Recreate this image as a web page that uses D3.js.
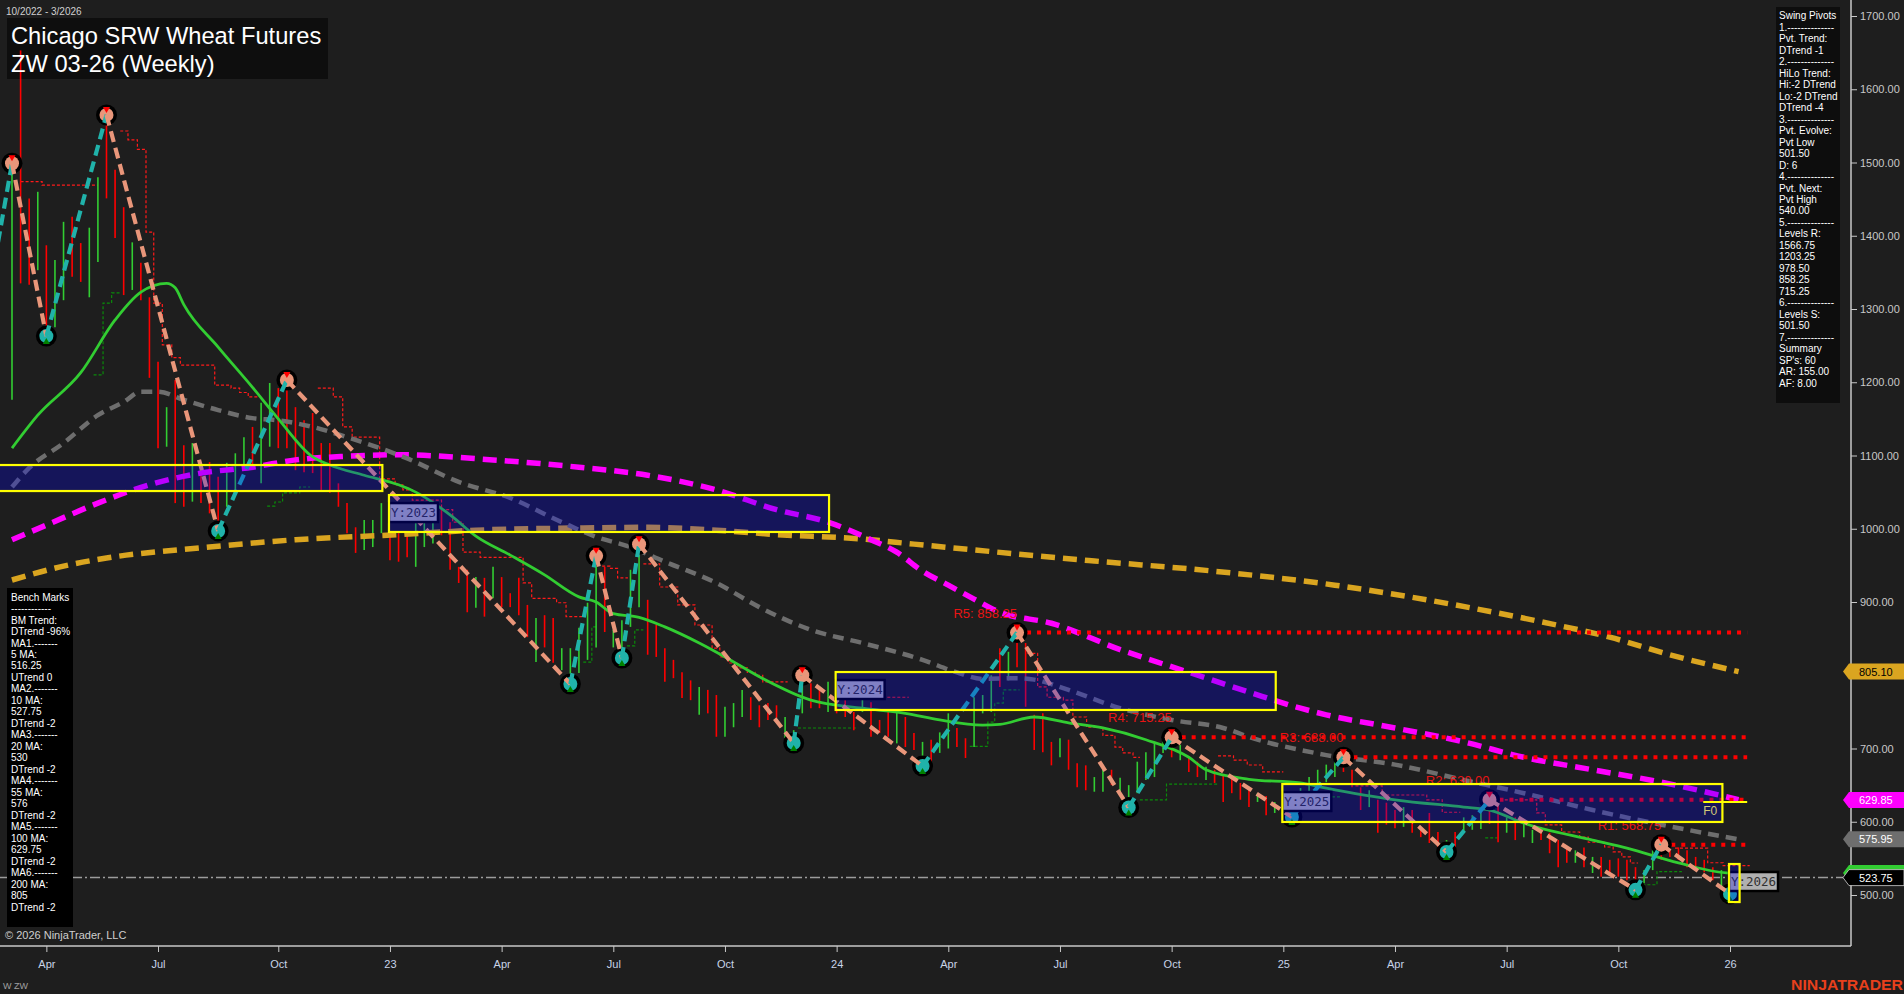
<!DOCTYPE html>
<html><head><meta charset="utf-8">
<script src="https://cdn.jsdelivr.net/npm/d3@7"></script>
<style>
html,body{margin:0;padding:0;background:#1e1e1e;overflow:hidden}
svg{display:block;font-family:"Liberation Sans",Arial,sans-serif}
</style></head><body>
<svg id="c" width="1904" height="994"></svg>
<script>
// ---------------- DATA ----------------
const firstWeek = "2022-03-04"; // first weekly bar (Friday)
const highs = [1499,1653,1451,1460,1387,1367,1419,1426,1390,1411,
1480,1565,1490,1439,1391,1363,1316,1228,1166,1203,
1114,1117,1084,1091,1071,1090,1103,1125,1139,1172,
1199,1192,1203,1166,1148,1158,1117,1117,1062,1035,
1002,1012,1012,1035,994,994,992,1008,1021,1025,
1030,1009,948,944,934,933,948,934,912,933,
896,878,882,878,837,837,865,899,963,948,
862,875,944,979,903,869,837,821,804,793,
784,780,773,757,762,780,770,759,762,759,
743,725,800,789,784,791,776,766,750,770,
763,739,750,750,743,721,709,712,722,748,
728,714,770,773,800,837,832,858,844,746,
748,709,714,712,680,677,661,671,671,660,
650,682,695,709,721,716,705,688,682,675,
671,664,661,653,647,639,635,627,636,630,
646,661,671,678,684,688,671,647,643,630,
626,616,620,616,593,612,586,575,586,606,
609,613,630,626,606,606,602,589,593,585,
575,565,561,565,552,552,548,550,548,538,
534,561,569,565,565,561,552,548,538,534,
525,530];
const lows = [1176,1335,1333,1353,1262,1275,1312,1344,1337,1316,
1364,1451,1397,1319,1326,1312,1206,1110,1112,1035,
1030,1037,1035,1021,997,1030,1049,1084,1080,1062,
1112,1110,1110,1080,1077,1076,1053,1049,1030,994,
967,971,975,994,957,955,961,948,975,980,
991,944,926,886,892,880,905,893,893,882,
852,818,838,817,807,788,803,821,838,859,
838,823.5,866,893,828,825,791,796,769,766,
746,748,716,716,729,743,739,729,739,742,
714,707.5,748,755,755,750,748,743,725,750,
716,721,716,707,702,698,676,680,694,700,
702,687,702,748,750,784,793,811,757,698,
695,677,688,671,647,643,641,641,650,636,
619.5,639,657,661,694,688,684,668,661,657,
653,627,639,630,620,627,609,612,609,606.5,
616,630,647,654,661,668,647,616,620,585,
596,591,593,585,579,571,565,559,565,585,
589,590,597,572,585,575,579,571,575,557,
538,544,544,538,530,525,530,525,520,507,
516,534,548,552,548,538,534,531,520,511,
501.5,510];
const barDirs = "UDDUDUUDDU"+"UDDDUDDDUD"+"DUDDDUUUDU"+"UDDDDDDDDD"+"DUUUDDDUUU"+
  "DDDDUDUDDD"+"DUDDUUUUUD"+"UUUUDDDDDD"+"UDDUUUDDDD"+"UUUDDUDDDU"+
  "DDDUDDUDUU"+"DDUUUDUDDD"+"DDUDDDUUDU"+"UUUUUDUDDU"+"DDDDDUDUDU"+
  "UUUUUDDDUD"+"DDUDDDDUDU"+"UUDDUDUUDD"+"DDUDUDDDDD"+"UUDDDDDDDU"+"DU";

// moving averages: [week number since firstWeek, value]
const ma20 = [[0,1110],[3,1155],[8,1213],[12,1285],[15,1323],[18,1335],[19,1329],[20,1306],[24,1248],[28,1193],[31,1150],[35,1098],[37,1087],[41,1073],[45,1060],[47,1050],[51,1019],[54,990],[58,964],[62,937],[66,907],[68,900],[70,884],[73,879],[76,866],[80,844],[83,825],[87,798],[93,766],[99,755],[104,748],[108,739],[113,732],[115,733],[119,743],[123,735],[127,728],[132,712],[137,688],[139,671],[144,658],[150,653],[153,646],[161,630],[169,620],[172,616],[176,598],[184,575],[188,564],[194,544],[200,530],[201,530]];
const ma55 = [[0,1057],[2,1083],[6,1117],[10,1155],[13,1173],[15,1187],[17,1187],[20,1176],[24,1162],[28,1151],[31,1148],[35,1139],[39,1125],[46,1096],[52,1064],[58,1042],[64,1009],[68,989],[72,975],[76,955],[82,926],[87,893],[93,862],[99,844],[106,821],[110,804],[113,795],[117,796],[119,794],[123,780],[129,755],[135,739],[141,728],[145,712],[150,698],[153,691],[161,678],[169,657],[176,639],[184,616],[192,596],[201,576]];
const ma100 = [[0,985],[4,1005],[10,1035],[16,1060],[22,1076],[28,1084],[33,1094],[39,1099],[45,1101],[56,1094],[66,1084],[74,1073],[82,1053],[89,1026],[95,1009],[100,985],[103,968],[106,942],[109,923],[112,904],[115,886],[121,871],[129,835],[137,804],[144,777],[150,755],[153,746],[161,728],[169,709],[176,688],[184,671],[192,654],[201,630]];
const ma200 = [[0,930],[6,949],[11,960],[22,974],[33,985],[45,992],[54,998],[66,1001],[74,1002],[82,998],[89,992],[99,986],[105,979],[126,956],[140,942],[154,923],[168,896],[178,873],[186,852],[193,828],[201,805]];

// trailing step lines: runs of [week, level]
const stopRedRuns = [
 [[1,1474],[3.5,1469],[10,1469]],
 [[12.6,1543],[13.5,1531],[14.6,1518],[15.6,1405],[16.5,1308],[17.5,1251],[18.6,1233.5],[19.6,1223.5],[23.6,1196],[25.5,1192],[26.5,1186],[27.5,1180],[28.6,1180]],
 [[35.6,1192],[37.4,1180],[38.5,1139],[39.6,1125],[42.8,1068],[44.6,1060],[45.5,1053],[46.6,1039],[50,1026],[51.3,1009],[52.5,968],[54.5,961],[59.5,926],[60.5,905],[63.4,899],[64.5,880],[66.5,880]],
 [[68.7,949],[69.6,946],[70.5,933],[71.7,933]],
 [[73.5,952],[75.4,920.5],[77.5,896],[79.5,868.6],[81.5,837],[82.4,825],[83.4,816.7],[84.5,810],[85.6,804],[86.5,800],[87.4,791],[90.3,791]],
 [[101.9,770],[104.4,770]],
 [[118.2,830],[119.4,784],[120.5,770],[122.4,766],[123.5,743],[125.1,729],[127,718],[128.4,702],[129.3,694],[130.5,688],[131.3,688]],
 [[140.4,690],[142.2,684],[143.8,677.5],[145.6,668],[148,668]],
 [[156.4,649],[159.5,636.5],[164.7,630],[166.5,613],[168.6,613]],
 [[173.2,630],[177.5,612],[178.5,595.6],[180.4,586],[182.5,579],[183.5,572],[185.4,565.5],[186.4,559],[187.4,552],[188.4,543.7],[189.3,543.7]],
 [[193.6,564],[197.4,544],[199.2,540],[202.3,540]]
];
const stopGreenRuns = [
 [[9.5,1210],[10.6,1308],[11.6,1322],[12.6,1322]],
 [[29.7,1031],[30.6,1036.5],[31.5,1049],[33.5,1057],[34.7,1057]],
 [[66.5,818],[67.5,866],[68.2,866]],
 [[71.6,840],[72.5,862],[73.5,862]],
 [[91.5,728],[98.5,728]],
 [[111.5,703],[113.6,736],[114.4,762],[115.4,780],[117.3,780]],
 [[131.3,630],[134.4,651.5],[140.3,651.5]],
 [[152.5,634],[154.6,634]],
 [[171.5,578],[172.9,578]],
 [[189.8,514],[191.5,532],[194.4,532]]
];

// swing pivots
const pivotWeeks  = [-3,0,4,11,24,32,65,68,71,73,91,92,106,117,130,135,149,155,167,172,189,192,200];
const pivotPrices = [1300,1499,1263,1565,997,1203,788,963,823.5,979,707.5,800,676,858.25,619.5,715.25,606.5,688,558.75,630,507,568.75,501.5];
const pivotKinds  = "LHLHLHLHLHLHLHLHLHLHLHL";

// resistance levels
const resLabels = ["R5: 858.25","R4: 715.25","R3: 688.00","R2: 630.00","R1: 568.75"];
const resValues = [858.25,715.25,688,630,568.75];
const resFromWeek = [117,135,155,172,192];
const resToWeek = 202;

// yearly boxes
const yearLabels = ["","Y:2023","Y:2024","Y:2025","Y:2026"];
const yearStartWeek = [-8,44,96,148,200];
const yearEndWeek   = [43,95,147,199,201];
const yearLow  = [1051.5,995.6,752.6,599.7,490.4];
const yearHigh = [1087,1046,804.4,651.5,542.3];
const f0Level = 627, f0From = 197, f0To = 202;

const currentPrice = 523.75;
const priceTicks = [1700,1600,1500,1400,1300,1200,1100,1000,900,800,700,600,500];
const tagValues = [805.10,629.85,575.95,530,523.75];
const tagTexts  = ["805.10","629.85","575.95","","523.75"];

const swingPanel = ["Swing Pivots","1.--------------","Pvt. Trend:","DTrend -1","2.--------------","HiLo Trend:","Hi:-2 DTrend","Lo:-2 DTrend","DTrend -4","3.--------------","Pvt. Evolve:","Pvt Low","501.50","D: 6","4.--------------","Pvt. Next:","Pvt High","540.00","5.--------------","Levels R:","1566.75","1203.25","978.50","858.25","715.25","6.--------------","Levels S:","501.50","7.--------------","Summary","SP's: 60","AR: 155.00","AF: 8.00"];
const benchPanel = ["Bench Marks","------------","BM Trend:","DTrend -96%","MA1.-------","5 MA:","516.25","UTrend 0","MA2.-------","10 MA:","527.75","DTrend -2","MA3.-------","20 MA:","530","DTrend -2","MA4.-------","55 MA:","576","DTrend -2","MA5.-------","100 MA:","629.75","DTrend -2","MA6.-------","200 MA:","805","DTrend -2"];

// ---------------- DRAW ----------------
const svg = d3.select("#c");
const W = 1904, H = 994, PR = 1851, PB = 946;
const t0 = Date.parse(firstWeek + "T00:00:00Z");
const WEEK = 7*864e5;
const wd = w => new Date(t0 + w*WEEK);
const pxWeek = 8.59;
const x = d3.scaleUtc().domain([wd(-12/pxWeek), wd((PR-12)/pxWeek)]).range([0, PR]);
const y = d3.scaleLinear().domain([500,1700]).range([895,16]);
const xw = w => x(wd(w));

svg.append("rect").attr("width",W).attr("height",H).attr("fill","#1e1e1e");
svg.append("rect").attr("x",7).attr("y",18).attr("width",321).attr("height",61).attr("fill","#0e0e0e");
svg.append("defs").append("clipPath").attr("id","plot").append("rect").attr("x",0).attr("y",0).attr("width",PR).attr("height",PB);
const g = svg.append("g").attr("clip-path","url(#plot)");

// current price dash-dot
g.append("line").attr("x1",0).attr("x2",PR).attr("y1",y(currentPrice)).attr("y2",y(currentPrice))
 .attr("stroke","#9c9c9c").attr("stroke-width",1.5).attr("stroke-dasharray","10,3,2,3");

// trailing step lines
const stepLine = d3.line().x(d=>xw(d[0])).y(d=>y(d[1])).curve(d3.curveStepAfter);
g.append("g").selectAll("path").data(stopRedRuns).join("path").attr("d",stepLine)
 .attr("fill","none").attr("stroke","#ff1a1a").attr("stroke-width",1.2).attr("stroke-dasharray","3,2");
g.append("g").selectAll("path").data(stopGreenRuns).join("path").attr("d",stepLine)
 .attr("fill","none").attr("stroke","#0a8a0a").attr("stroke-width",1.2).attr("stroke-dasharray","3,2");

// bars
const bars = highs.map((h,i)=>({d:wd(i),h,l:lows[i],up:barDirs[i]==="U"}));
g.append("g").selectAll("line").data(bars).join("line")
 .attr("x1",d=>x(d.d)).attr("x2",d=>x(d.d))
 .attr("y1",d=>y(d.h)).attr("y2",d=>y(d.l))
 .attr("stroke",d=>d.up?"#32cd32":"#ff0000").attr("stroke-width",1.6);

// MAs
const maLine = d3.line().x(d=>xw(d[0])).y(d=>y(d[1])).curve(d3.curveMonotoneX);
g.append("path").attr("d",maLine(ma200)).attr("fill","none").attr("stroke","#daa520").attr("stroke-width",5.5).attr("stroke-dasharray","14,8");
g.append("path").attr("d",maLine(ma100)).attr("fill","none").attr("stroke","#ff00ff").attr("stroke-width",5.5).attr("stroke-dasharray","14,8");
g.append("path").attr("d",maLine(ma55)).attr("fill","none").attr("stroke","#6e6e6e").attr("stroke-width",4.5).attr("stroke-dasharray","11,7");
g.append("path").attr("d",maLine(ma20)).attr("fill","none").attr("stroke","#32cd32").attr("stroke-width",2.8);

// resistance dotted lines
resValues.forEach((v,i)=>{
  g.append("line").attr("x1",xw(resFromWeek[i])).attr("x2",xw(resToWeek))
   .attr("y1",y(v)).attr("y2",y(v)).attr("stroke","#ff0000").attr("stroke-width",4).attr("stroke-dasharray","4,6");
});

// swing pivots
const piv = pivotWeeks.map((w,i)=>({x:xw(w),y:y(pivotPrices[i]),k:pivotKinds[i]}));
const pg = g.append("g");
pg.selectAll("circle.o").data(piv.slice(1)).join("circle").attr("cx",d=>d.x).attr("cy",d=>d.y).attr("r",10.5).attr("fill","#000");
pg.selectAll("circle.i").data(piv.slice(1)).join("circle").attr("cx",d=>d.x).attr("cy",d=>d.y).attr("r",7)
 .attr("fill",d=>d.k==="H"?"#e9967a":"#20b2aa");
for(let i=1;i<piv.length;i++){
  const a=piv[i-1], b=piv[i];
  pg.append("line").attr("x1",a.x).attr("y1",a.y).attr("x2",b.x).attr("y2",b.y)
   .attr("stroke", b.k==="H" ? "#20b2aa" : "#e9967a").attr("stroke-width",4.2).attr("stroke-dasharray","11,6");
}
pg.selectAll("path.tri").data(piv.slice(1)).join("path")
 .attr("d",d=> d.k==="H" ? `M${d.x-3.5},${d.y-8}L${d.x+3.5},${d.y-8}L${d.x},${d.y-2}Z` : `M${d.x-3.5},${d.y+8}L${d.x+3.5},${d.y+8}L${d.x},${d.y+2}Z`)
 .attr("fill",d=>d.k==="H"?"#ff0000":"#008000");

// resistance labels
resLabels.forEach((t,i)=>{
  g.append("text").attr("x",xw(resFromWeek[i])).attr("y",y(resValues[i])-15).attr("text-anchor","end")
   .attr("font-size",13).attr("fill","#e81414").text(t);
});

// year labels then boxes (boxes semi-transparent on top)
yearLabels.forEach((t,i)=>{
  if(!t) return;
  const bx = xw(yearStartWeek[i]) - 1, by = y(yearHigh[i]) + 8;
  g.append("rect").attr("x",bx).attr("y",by).attr("width",49).attr("height",19).attr("fill","#b0b0b0").attr("stroke","#000").attr("stroke-width",2.5);
  g.append("text").attr("x",bx+24.5).attr("y",by+14).attr("text-anchor","middle").attr("font-family","DejaVu Sans Mono, monospace").attr("font-size",12.5).attr("fill","#303030").text(t);
});
yearLabels.forEach((t,i)=>{
  g.append("rect").attr("x",xw(yearStartWeek[i])-1).attr("y",y(yearHigh[i]))
   .attr("width",xw(yearEndWeek[i])-xw(yearStartWeek[i])+2).attr("height",y(yearLow[i])-y(yearHigh[i]))
   .attr("fill","rgb(0,0,255)").attr("fill-opacity",0.27).attr("stroke","#ffff00").attr("stroke-width",2.2);
});
g.append("line").attr("x1",xw(f0From)-1).attr("x2",xw(f0To)).attr("y1",y(f0Level)).attr("y2",y(f0Level)).attr("stroke","#ffff00").attr("stroke-width",2);
g.append("text").attr("x",xw(f0From)-1).attr("y",y(f0Level)+13).attr("font-size",12).attr("fill","#d2c878").text("F0");

// panels
svg.append("text").attr("x",6).attr("y",15).attr("font-size",10).attr("fill","#d0d0d0").text("10/2022 - 3/2026");
svg.append("text").attr("x",11).attr("y",43.5).attr("font-size",23.7).attr("fill","#fff").text("Chicago SRW Wheat Futures");
svg.append("text").attr("x",11).attr("y",71.5).attr("font-size",23.7).attr("fill","#fff").text("ZW 03-26 (Weekly)");

svg.append("rect").attr("x",1776).attr("y",7).attr("width",64).attr("height",396).attr("fill","#0d0d0d");
svg.append("g").selectAll("text").data(swingPanel).join("text").attr("x",1779).attr("y",(d,i)=>19.3+i*11.48)
 .attr("font-size",10).attr("fill","#fff").text(d=>d);
svg.append("rect").attr("x",7).attr("y",588).attr("width",66).attr("height",339).attr("fill","#000");
svg.append("g").selectAll("text").data(benchPanel).join("text").attr("x",11).attr("y",(d,i)=>600.6+i*11.48)
 .attr("font-size",10).attr("fill","#fff").text(d=>d);
svg.append("text").attr("x",5).attr("y",939).attr("font-size",11).attr("fill","#cfcfcf").text("© 2026 NinjaTrader, LLC");

// axes
const yAxis = d3.axisRight(y).tickValues(priceTicks).tickFormat(d3.format(".2f")).tickSize(6).tickPadding(3);
const ya = svg.append("g").attr("transform",`translate(${PR},0)`).call(yAxis);
ya.select(".domain").remove();
ya.selectAll("line").attr("stroke","#c8c8c8");
ya.selectAll("text").attr("fill","#c8c8c8").attr("font-size",11).attr("font-family","Liberation Sans, Arial, sans-serif");
svg.append("line").attr("x1",PR).attr("x2",PR).attr("y1",0).attr("y2",PB).attr("stroke","#c8c8c8").attr("stroke-width",1.5);

const dates = bars.map(b=>b.d);
const qTicks = dates.filter((d,i)=> i>0 && d.getUTCMonth()!==dates[i-1].getUTCMonth() && d.getUTCMonth()%3===0);
const fmtM = d3.utcFormat("%b"), fmtY = d3.utcFormat("%y");
const xAxis = d3.axisBottom(x).tickValues(qTicks).tickFormat(d=> d.getUTCMonth()===0 ? fmtY(d) : fmtM(d)).tickSize(6).tickPadding(8);
const xa = svg.append("g").attr("transform",`translate(0,${PB})`).call(xAxis);
xa.select(".domain").remove();
xa.selectAll("line").attr("stroke","#c8c8c8");
xa.selectAll("text").attr("fill","#c8d4e8").attr("font-size",11).attr("font-family","Liberation Sans, Arial, sans-serif");
svg.append("line").attr("x1",0).attr("x2",PR).attr("y1",PB).attr("y2",PB).attr("stroke","#c8c8c8").attr("stroke-width",1.5);

// price tags
const tagFill = ["#daa520","#ff00ff","#6e6e6e","#32cd32","#000000"];
const tagText = ["#000","#fff","#fff","#fff","#fff"];
tagValues.forEach((v,i)=>{
  const cy = y(v);
  svg.append("path").attr("d",`M1843,${cy}L1849,${cy-8}L1904,${cy-8}L1904,${cy+8}L1849,${cy+8}Z`)
   .attr("fill",tagFill[i]).attr("stroke", i===4?"#d0d0d0":"none").attr("stroke-width",0.8);
  if(tagTexts[i]) svg.append("text").attr("x",1859).attr("y",cy+4).attr("font-size",11).attr("fill",tagText[i]).text(tagTexts[i]);
});

svg.append("text").attr("x",3).attr("y",989).attr("font-size",9).attr("fill","#a0a0a0").text("W ZW");
svg.append("text").attr("x",1791).attr("y",990).attr("font-size",15).attr("font-weight","bold")
 .attr("font-family","Liberation Sans Narrow, Arial Narrow, sans-serif").attr("fill","#e8401c")
 .attr("textLength",112).attr("lengthAdjust","spacingAndGlyphs").text("NINJATRADER");
</script>
</body></html>
